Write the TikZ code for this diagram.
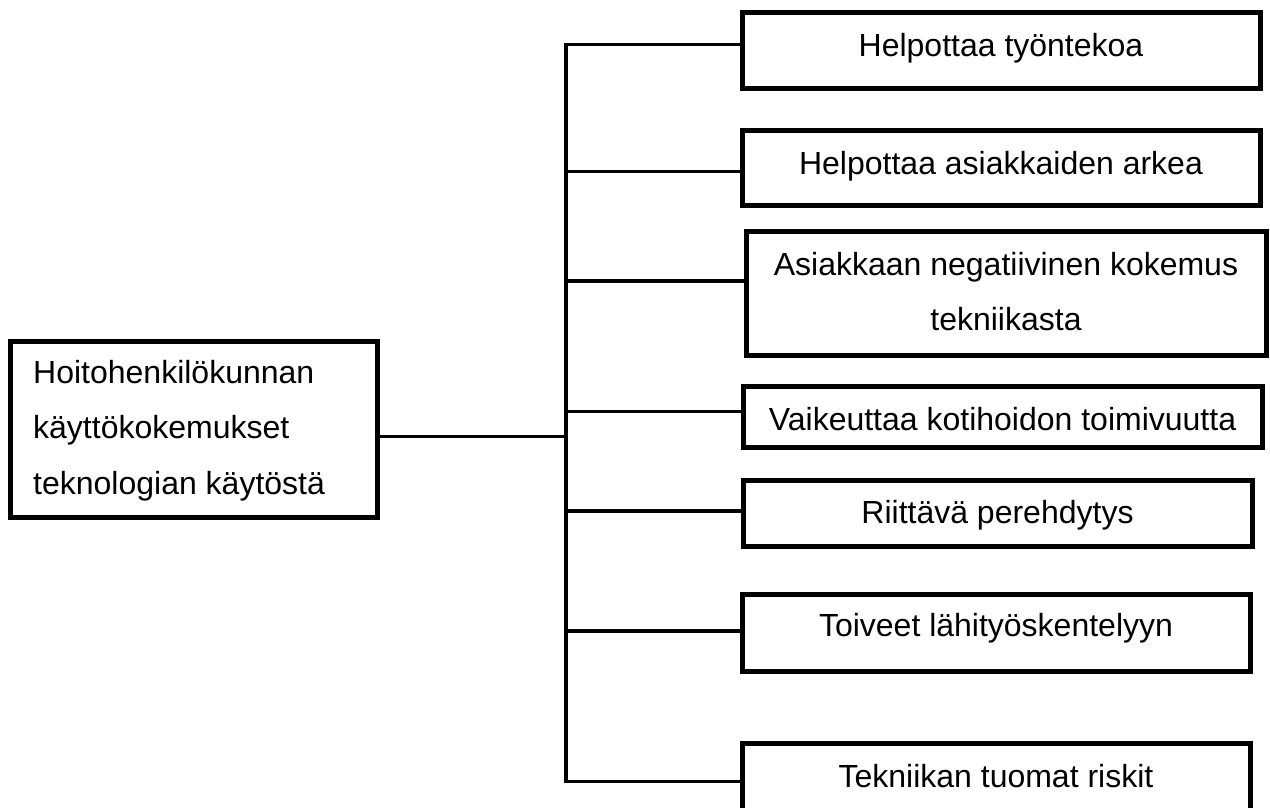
\documentclass[tikz,border=0pt]{standalone}
\usepackage{fontspec}
\setmainfont{Liberation Sans}
\begin{document}
\begin{tikzpicture}[x=1pt,y=-1pt,
  boxshape/.style={draw=black, line width=5pt, inner sep=0pt, rectangle, fill=white},
  conn/.style={draw=black, line width=3.5pt},
  lbl/.style={inner sep=0pt, anchor=base, font=\fontsize{32}{38}\selectfont},
  lbll/.style={inner sep=0pt, anchor=base west, font=\fontsize{32}{38}\selectfont}]
\useasboundingbox (0,0) rectangle (1270,807);
\clip (0,0) rectangle (1270,807);
\fill[white] (0,0) rectangle (1270,807);

% left box
\node[boxshape, minimum width=366.5pt, minimum height=176.5pt] (root) at (193.75,429.25) {};
\node[lbll] (r1) at (33,383) {Hoitohenkilökunnan};
\node[lbll] (r2) at (33,438) {käyttökokemukset};
\node[lbll] (r3) at (33,494.5) {teknologian käytöstä};

% right boxes
\node[boxshape, minimum width=518pt, minimum height=75.5pt] (b1) at (1001,50.25) {};
\node[boxshape, minimum width=518pt, minimum height=75pt] (b2) at (1001,167.5) {};
\node[boxshape, minimum width=520pt, minimum height=124pt] (b3) at (1006,293) {};
\node[boxshape, minimum width=519pt, minimum height=61pt] (b4) at (1002.5,416.5) {};
\node[boxshape, minimum width=509pt, minimum height=66pt] (b5) at (997.5,513) {};
\node[boxshape, minimum width=508pt, minimum height=77pt] (b6) at (996,632.5) {};
\node[boxshape, minimum width=508pt, minimum height=100pt] (b7) at (996,793) {};

\node[lbl] (t1) at (b1.center |- 0,56) {Helpottaa työntekoa};
\node[lbl] (t2) at (b2.center |- 0,174.5) {Helpottaa asiakkaiden arkea};
\node[lbl] (t3a) at (b3.center |- 0,275) {Asiakkaan negatiivinen kokemus};
\node[lbl] (t3b) at (b3.center |- 0,330) {tekniikasta};
\node[lbl] (t4) at (b4.center |- 0,430) {Vaikeuttaa kotihoidon toimivuutta};
\node[lbl] (t5) at (b5.center |- 0,523.5) {Riittävä perehdytys};
\node[lbl] (t6) at (b6.center |- 0,636) {Toiveet lähityöskentelyyn};
\node[lbl] (t7) at (b7.center |- 0,787.5) {Tekniikan tuomat riskit};

% junctions on trunk
\coordinate (j1) at (566,44.3);
\coordinate (j2) at (566,171.7);
\coordinate (j3) at (566,281);
\coordinate (j4) at (566,411.7);
\coordinate (j5) at (566,511);
\coordinate (j6) at (566,631);
\coordinate (j7) at (566,781.7);
\coordinate (jm) at (566,436.5);

% connectors
\draw[conn] (j1 -| b1.west) -- (j1) -- (j7) -- (j7 -| b7.west);
\draw[conn] (j2) -- (j2 -| b2.west);
\draw[conn] (j3) -- (j3 -| b3.west);
\draw[conn] (j4) -- (j4 -| b4.west);
\draw[conn] (j5) -- (j5 -| b5.west);
\draw[conn] (j6) -- (j6 -| b6.west);
\draw[conn] (jm -| root.east) -- (jm);
\end{tikzpicture}
\end{document}
